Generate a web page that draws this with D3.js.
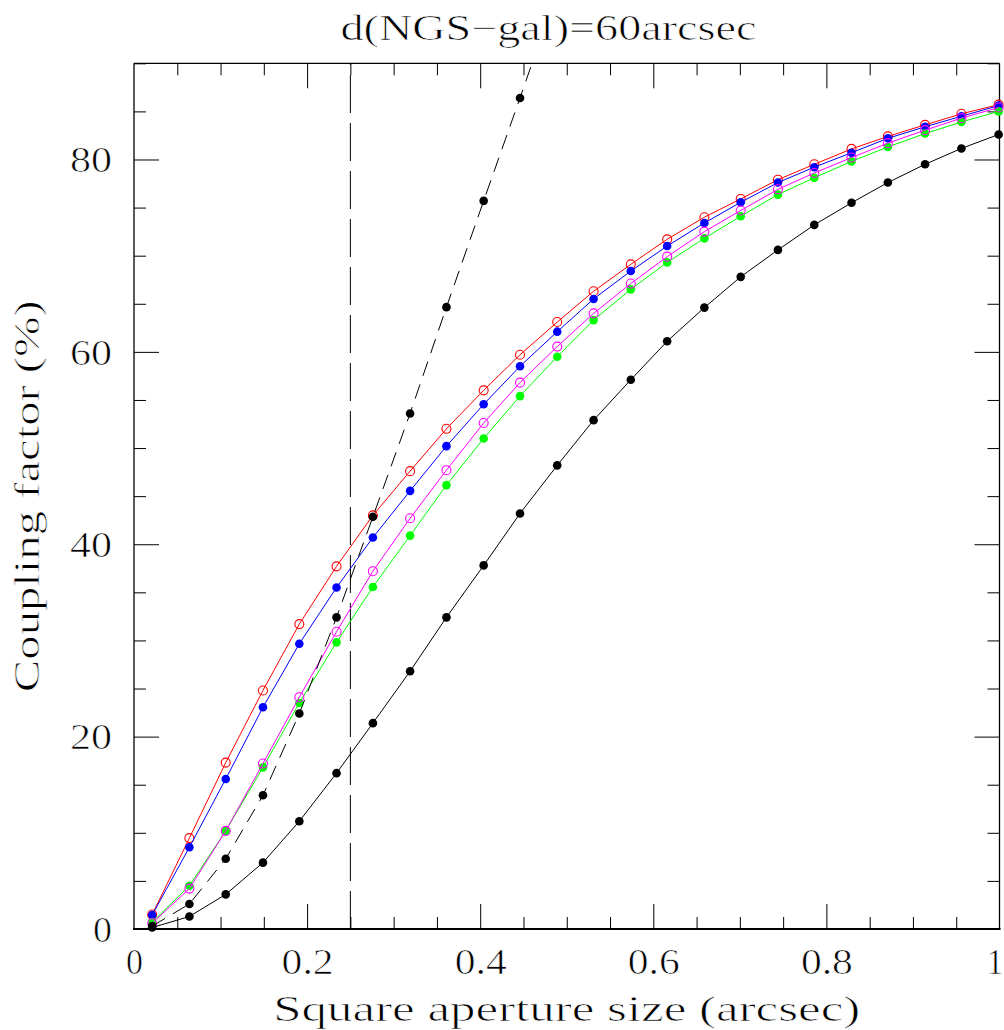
<!DOCTYPE html>
<html>
<head>
<meta charset="utf-8">
<script src="https://cdn.jsdelivr.net/npm/d3@7"></script>
<style>
html,body{margin:0;padding:0;background:#fff;}
svg{display:block;}
svg text{stroke:#fff;stroke-width:0.7px;}
</style>
</head>
<body>
<svg id="chart" width="1004" height="1030"></svg>
<script>
// ---- data ----
const apertureSize = [0.021, 0.064, 0.106, 0.149, 0.191, 0.234, 0.276, 0.319, 0.361, 0.404, 0.446, 0.489,
                      0.531, 0.574, 0.616, 0.659, 0.701, 0.744, 0.786, 0.829, 0.871, 0.914, 0.956, 0.999];
const redOpen     = [1.5, 9.45, 17.3, 24.8, 31.7, 37.7, 43.0, 47.6, 52.0, 56.0, 59.7, 63.1,
                     66.3, 69.1, 71.7, 74.0, 75.9, 77.9, 79.5, 81.1, 82.4, 83.6, 84.75, 85.7];
const blueFilled  = [1.45, 8.5, 15.6, 23.05, 29.65, 35.5, 40.7, 45.55, 50.2, 54.55, 58.5, 62.1,
                     65.5, 68.4, 71.0, 73.4, 75.55, 77.6, 79.2, 80.7, 82.2, 83.4, 84.5, 85.6];
const greenFilled = [0.7, 4.5, 10.2, 16.8, 23.5, 29.8, 35.55, 40.9, 46.15, 51.0, 55.4, 59.5,
                     63.3, 66.5, 69.3, 71.8, 74.1, 76.35, 78.1, 79.8, 81.3, 82.7, 83.9, 85.0];
const magentaOpen = [0.6, 4.2, 10.2, 17.2, 24.1, 30.9, 37.2, 42.7, 47.7, 52.6, 56.8, 60.55,
                     64.0, 67.1, 69.9, 72.5, 74.7, 76.9, 78.6, 80.2, 81.7, 83.05, 84.3, 85.4];
const blackSolid  = [0.15, 1.3, 3.6, 6.9, 11.2, 16.2, 21.4, 26.8, 32.4, 37.8, 43.2, 48.2,
                     52.9, 57.1, 61.1, 64.6, 67.8, 70.6, 73.2, 75.5, 77.6, 79.5, 81.15, 82.6];
const blackDashed = [0.3, 2.6, 7.3, 13.9, 22.4, 32.4, 42.85, 53.6, 64.65, 75.7, 86.4, 97.5];
const xTickLabels = [0, 0.2, 0.4, 0.6, 0.8, 1];
const yTickLabels = [0, 20, 40, 60, 80];
const refLineX = 0.25;
const titleText = "d(NGS\u2212gal)=60arcsec";
const xLabelText = "Square aperture size (arcsec)";
const yLabelText = "Coupling factor (%)";

// ---- layout ----
const L = 134, R = 999.5, T = 63.3, B = 929;
const svg = d3.select("#chart");
const x = d3.scaleLinear().domain([0, 1]).range([L, R]);
const y = d3.scaleLinear().domain([0, 90]).range([B, T]);
const serif = "'Liberation Serif', 'DejaVu Serif', serif";

svg.append("rect").attr("width", 1004).attr("height", 1030).attr("fill", "#fff");

svg.append("defs").append("clipPath").attr("id", "plotclip")
  .append("rect").attr("x", L).attr("y", T).attr("width", R - L).attr("height", B - T);

// ---- axes ticks ----
const xMinor = x.ticks(20).filter(v => !xTickLabels.some(m => Math.abs(m - v) < 1e-9));
const yMinor = y.ticks(18).filter(v => !yTickLabels.some(m => Math.abs(m - v) < 1e-9));

function styleAxis(g) {
  g.select(".domain").remove();
  g.selectAll(".tick line").attr("stroke", "#000").attr("stroke-width", 1);
}

// bottom
const gxB = svg.append("g").attr("transform", `translate(0,${B})`)
  .call(d3.axisBottom(x).tickValues(xTickLabels).tickSize(-25).tickSizeOuter(0)
    .tickFormat(d => (d === 0 || d === 1) ? String(d) : d.toFixed(1)));
styleAxis(gxB);
gxB.selectAll(".tick")
  .filter(d => d === 0 || d === 1).select("line").remove();
gxB.selectAll(".tick text")
  .attr("y", 45).attr("dy", null)
  .attr("font-family", serif).attr("font-size", 36).attr("fill", "#000")
  .attr("text-anchor", d => d === 1 ? "end" : "middle")
  .attr("x", d => d === 1 ? 3.5 : 0)
  .attr("textLength", d => (d === 0 || d === 1) ? 17 : 52)
  .attr("lengthAdjust", "spacingAndGlyphs");
svg.append("g").attr("transform", `translate(0,${B})`)
  .call(d3.axisBottom(x).tickValues(xMinor).tickSize(-12).tickFormat(""))
  .call(styleAxis);

// top
svg.append("g").attr("transform", `translate(0,${T})`)
  .call(d3.axisTop(x).tickValues(xTickLabels.filter(d => d > 0 && d < 1)).tickSize(-25).tickFormat(""))
  .call(styleAxis);
svg.append("g").attr("transform", `translate(0,${T})`)
  .call(d3.axisTop(x).tickValues(xMinor).tickSize(-12).tickFormat(""))
  .call(styleAxis);

// left
const gyL = svg.append("g").attr("transform", `translate(${L},0)`)
  .call(d3.axisLeft(y).tickValues(yTickLabels).tickSize(-25).tickPadding(22).tickFormat(d3.format("d")));
styleAxis(gyL);
gyL.selectAll(".tick").filter(d => d === 0).select("line").remove();
gyL.selectAll(".tick text")
  .attr("dy", "0.34em")
  .attr("font-family", serif).attr("font-size", 36).attr("fill", "#000")
  .attr("textLength", d => d === 0 ? 19 : 42)
  .attr("lengthAdjust", "spacingAndGlyphs");
svg.append("g").attr("transform", `translate(${L},0)`)
  .call(d3.axisLeft(y).tickValues(yMinor).tickSize(-12).tickFormat(""))
  .call(styleAxis);

// right
svg.append("g").attr("transform", `translate(${R},0)`)
  .call(d3.axisRight(y).tickValues(yTickLabels.filter(d => d > 0)).tickSize(-25).tickFormat(""))
  .call(styleAxis);
svg.append("g").attr("transform", `translate(${R},0)`)
  .call(d3.axisRight(y).tickValues(yMinor).tickSize(-12).tickFormat(""))
  .call(styleAxis);

// frame
svg.append("line").attr("x1", L).attr("x2", R).attr("y1", T).attr("y2", T).attr("stroke", "#000").attr("stroke-width", 1.3);
svg.append("line").attr("x1", L).attr("x2", L).attr("y1", T).attr("y2", B).attr("stroke", "#000").attr("stroke-width", 1.3);
svg.append("line").attr("x1", R).attr("x2", R).attr("y1", T).attr("y2", B).attr("stroke", "#000").attr("stroke-width", 1.3);
svg.append("line").attr("x1", L - 1).attr("x2", R + 1).attr("y1", B).attr("y2", B).attr("stroke", "#000").attr("stroke-width", 2.2);

// reference vertical dashed line
svg.append("line")
  .attr("x1", x(refLineX)).attr("x2", x(refLineX))
  .attr("y1", y(0)).attr("y2", y(90))
  .attr("stroke", "#000").attr("stroke-width", 1)
  .attr("stroke-dasharray", "38,10");

// ---- series ----
const line = d3.line().x(d => x(d[0])).y(d => y(d[1]));
function drawSeries(vals, color, open, dashed) {
  const pts = vals.map((v, i) => [apertureSize[i], v]);
  const g = svg.append("g");
  if (dashed) g.attr("clip-path", "url(#plotclip)");
  g.append("path").datum(pts).attr("d", line)
    .attr("fill", "none").attr("stroke", color).attr("stroke-width", 1)
    .attr("stroke-dasharray", dashed ? "15,9" : null);
  g.selectAll("circle").data(pts).join("circle")
    .attr("cx", d => x(d[0])).attr("cy", d => y(d[1]))
    .attr("r", open ? 4.5 : 4.3)
    .attr("fill", open ? "none" : color)
    .attr("stroke", open ? color : "none")
    .attr("stroke-width", open ? 1.1 : 0);
}
drawSeries(redOpen, "#ff0000", true, false);
drawSeries(blueFilled, "#0000ff", false, false);
drawSeries(greenFilled, "#00ff00", false, false);
drawSeries(magentaOpen, "#ff00ff", true, false);
drawSeries(blackSolid, "#000000", false, false);
drawSeries(blackDashed, "#000000", false, true);

// ---- texts ----
svg.append("text").text(titleText)
  .attr("x", 548.5).attr("y", 39.5).attr("text-anchor", "middle")
  .attr("font-family", serif).attr("font-size", 35).attr("fill", "#000")
  .attr("textLength", 416).attr("lengthAdjust", "spacingAndGlyphs");

svg.append("text").text(xLabelText)
  .attr("x", (L + R) / 2).attr("y", 1021).attr("text-anchor", "middle")
  .attr("font-family", serif).attr("font-size", 35).attr("fill", "#000")
  .attr("textLength", 587).attr("lengthAdjust", "spacingAndGlyphs");

svg.append("text").text(yLabelText)
  .attr("transform", `translate(38.5,${(T + B) / 2}) rotate(-90)`)
  .attr("text-anchor", "middle")
  .attr("font-family", serif).attr("font-size", 35).attr("fill", "#000")
  .attr("textLength", 392).attr("lengthAdjust", "spacingAndGlyphs");
</script>
</body>
</html>
